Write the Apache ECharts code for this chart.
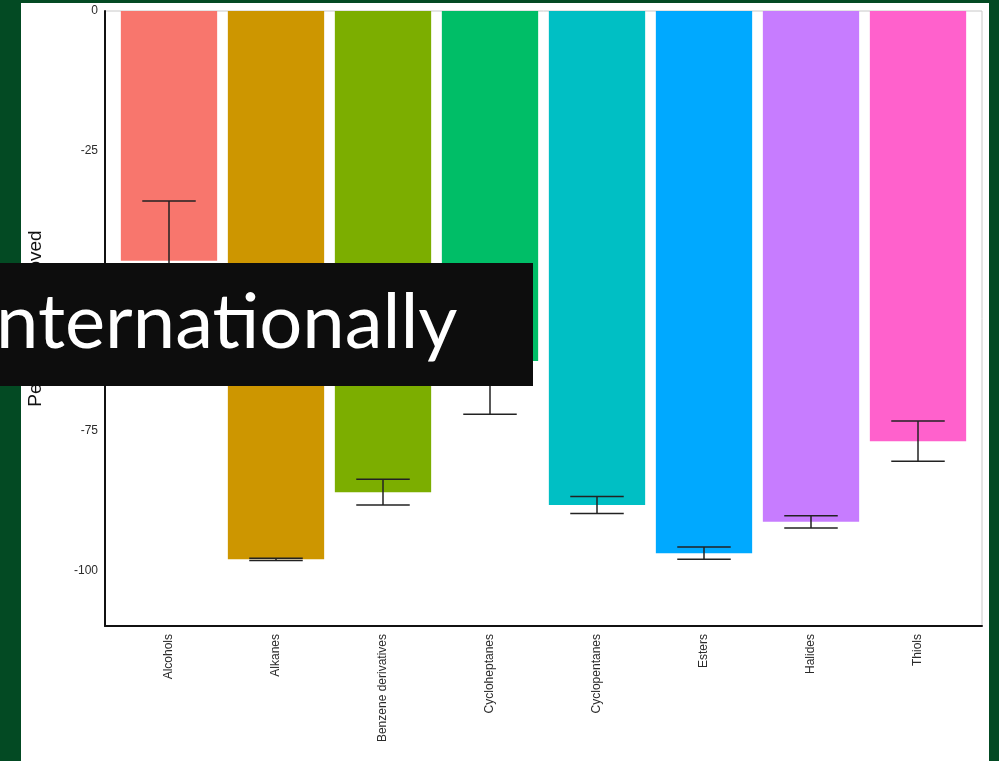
<!DOCTYPE html>
<html>
<head>
<meta charset="utf-8">
<script src="https://cdn.jsdelivr.net/npm/echarts@6/dist/echarts.min.js"></script>
<style>
html,body{margin:0;padding:0;width:999px;height:761px;background:#034a23;overflow:hidden;}
#panel{position:absolute;left:21px;top:3px;width:968px;height:758px;background:#ffffff;}
#chart{position:absolute;left:0;top:0;width:999px;height:761px;}
</style>
</head>
<body>
<div id="panel"></div>
<div id="chart"></div>
<script>
const categories = ["Alcohols","Alkanes","Benzene derivatives","Cycloheptanes","Cyclopentanes","Esters","Halides","Thiols"];
const meanValues = [-44.6, -97.9, -85.9, -62.5, -88.2, -96.8, -91.2, -76.8];
const errValues = [10.7, 0.2, 2.3, 9.5, 1.5, 1.1, 1.1, 3.6];
const barColors = ["#F8766D","#CD9600","#7CAE00","#00BE67","#00BFC4","#00A9FF","#C77CFF","#FF61CC"];
const yTicks = [0, -25, -50, -75, -100];
const yTitle = "Percentage removed";
const overlayText = "nternationally";

const yMin = -109.8, yMax = 0;
const chart = echarts.init(document.getElementById('chart'), null, {renderer:'canvas'});

const errData = meanValues.map((m, i) => [i, m - errValues[i], m + errValues[i]]);

chart.setOption({
  animation: false,
  backgroundColor: 'transparent',
  grid: [
    {left: 115.5, right: 27.5, top: 11, bottom: 135},
    {left: 105, right: 17, top: 11, bottom: 135, show: true, borderColor: '#c8c8c8', borderWidth: 1, backgroundColor: 'transparent'}
  ],
  xAxis: [
    {type: 'category', gridIndex: 0, data: categories,
     axisLine: {show: false}, axisTick: {show: false},
     axisLabel: {rotate: 90, margin: 8, fontSize: 12, color: '#2b2b2b', fontFamily: 'Liberation Sans, Arial, sans-serif', interval: 0}},
    {type: 'value', gridIndex: 1, min: 0, max: 1,
     axisLine: {show: true, onZero: false, lineStyle: {color: '#111', width: 2}},
     axisTick: {show: false}, axisLabel: {show: false}, splitLine: {show: false}}
  ],
  yAxis: [
    {type: 'value', gridIndex: 0, min: yMin, max: yMax, show: false},
    {type: 'value', gridIndex: 1, min: yMin, max: yMax,
     axisLine: {show: true, lineStyle: {color: '#111', width: 2}},
     axisTick: {show: false},
     splitLine: {show: false},
     axisLabel: {customValues: yTicks, margin: 7, fontSize: 12, color: '#2b2b2b', fontFamily: 'Liberation Sans, Arial, sans-serif'},
     name: yTitle, nameLocation: 'middle', nameGap: 60, nameRotate: 90,
     nameTextStyle: {fontSize: 19, color: '#111', fontFamily: 'Liberation Sans, Arial, sans-serif'}}
  ],
  series: [
    {type: 'bar', xAxisIndex: 0, yAxisIndex: 0, barWidth: '90%',
     data: meanValues.map((v, i) => ({value: v, itemStyle: {color: barColors[i]}}))},
    {type: 'custom', xAxisIndex: 0, yAxisIndex: 0, z: 5,
     data: errData,
     renderItem: function (params, api) {
       const i = api.value(0);
       const lo = api.coord([i, api.value(1)]);
       const hi = api.coord([i, api.value(2)]);
       const hw = api.size([1, 0])[0] * 0.25;
       const st = {stroke: '#222', lineWidth: 1.5};
       return {type: 'group', children: [
         {type: 'line', shape: {x1: lo[0], y1: lo[1], x2: hi[0], y2: hi[1]}, style: st},
         {type: 'line', shape: {x1: lo[0]-hw, y1: lo[1], x2: lo[0]+hw, y2: lo[1]}, style: st},
         {type: 'line', shape: {x1: hi[0]-hw, y1: hi[1], x2: hi[0]+hw, y2: hi[1]}, style: st}
       ]};
     }}
  ],
  graphic: [
    {type: 'rect', z: 100, shape: {x: -2, y: 263, width: 535, height: 123}, style: {fill: '#0d0d0d'}},
    {type: 'text', z: 101, x: -4, y: 323, style: {text: overlayText, fill: '#ffffff', font: '76px Lato, "Open Sans", sans-serif', verticalAlign: 'middle', align: 'left'}}
  ]
});
</script>
</body>
</html>
